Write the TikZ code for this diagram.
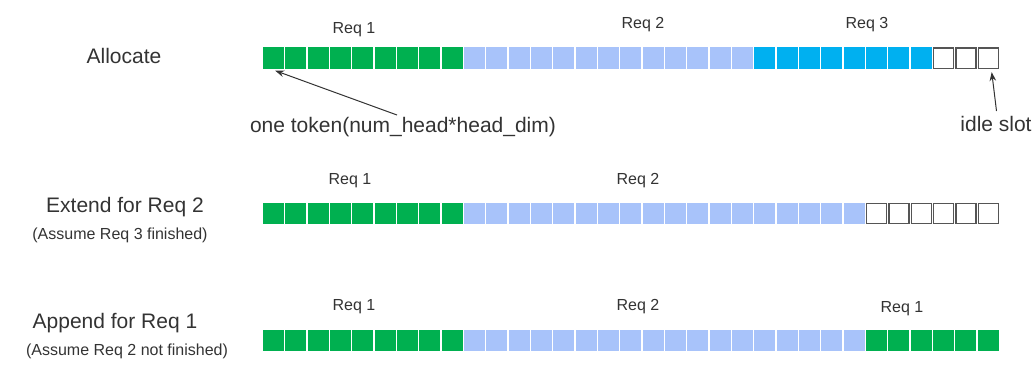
\documentclass[tikz,border=0pt]{standalone}
\usepackage{fontspec}
\setmainfont{Liberation Sans}
\usetikzlibrary{arrows.meta}
\definecolor{cgreen}{HTML}{00B050}
\definecolor{clight}{HTML}{A8C3FA}
\definecolor{cblue}{HTML}{00B0F0}
\definecolor{ctext}{HTML}{333333}
\definecolor{cidle}{HTML}{555555}
\tikzset{
  cell/.style={rectangle, inner sep=0pt, minimum width=21pt, minimum height=21.5pt, draw=none},
  greencell/.style={cell, fill=cgreen},
  lightcell/.style={cell, fill=clight},
  bluecell/.style={cell, fill=cblue},
  idlecell/.style={rectangle, inner sep=0pt, minimum width=20pt, minimum height=20.5pt, draw=cidle, line width=1.2pt, fill=white},
  big/.style={text=ctext, font=\fontsize{21}{24}\selectfont, anchor=base, inner sep=0pt},
  small/.style={text=ctext, font=\fontsize{16}{19}\selectfont, anchor=base, inner sep=0pt},
  pointer/.style={draw=ctext, line width=1pt, -{Stealth[length=9pt,width=6.5pt]}},
}
\begin{document}
\begin{tikzpicture}[x=1pt,y=-1pt]
\useasboundingbox (0,0) rectangle (1035,364);
\def\pitch{22.33}
\def\xs{262.5}
% Row 1
\foreach \i in {1,...,33}{
  \pgfmathsetmacro{\cx}{\xs+(\i-0.5)*\pitch}
  \ifnum\i<10 \node[greencell] (r1c\i) at (\cx,58.2) {};
  \else\ifnum\i<23 \node[lightcell] (r1c\i) at (\cx,58.2) {};
  \else\ifnum\i<31 \node[bluecell] (r1c\i) at (\cx,58.2) {};
  \else \node[idlecell] (r1c\i) at (\cx,58.2) {};
  \fi\fi\fi
}
% Row 2
\foreach \i in {1,...,33}{
  \pgfmathsetmacro{\cx}{\xs+(\i-0.5)*\pitch}
  \ifnum\i<10 \node[greencell] (r2c\i) at (\cx,213.5) {};
  \else\ifnum\i<28 \node[lightcell] (r2c\i) at (\cx,213.5) {};
  \else \node[idlecell] (r2c\i) at (\cx,213.5) {};
  \fi\fi
}
% Row 3
\foreach \i in {1,...,33}{
  \pgfmathsetmacro{\cx}{\xs+(\i-0.5)*\pitch}
  \ifnum\i<10 \node[greencell] (r3c\i) at (\cx,340.4) {};
  \else\ifnum\i<28 \node[lightcell] (r3c\i) at (\cx,340.4) {};
  \else \node[greencell] (r3c\i) at (\cx,340.4) {};
  \fi\fi
}
% Left labels
\node[big] (alloc) at (124,63) {Allocate};
\node[big] (ext) at (125,212) {Extend for Req 2};
\node[small] (extn) at (120,239) {(Assume Req 3 finished)};
\node[big] (app) at (115,328) {Append for Req 1};
\node[small] (appn) at (127,355) {(Assume Req 2 not finished)};
% Req labels
\node[small] (a1) at (354,33) {Req 1};
\node[small] (a2) at (643,28) {Req 2};
\node[small] (a3) at (867,28) {Req 3};
\node[small] (b1) at (350,184) {Req 1};
\node[small] (b2) at (638,184) {Req 2};
\node[small] (c1) at (354,310) {Req 1};
\node[small] (c2) at (638,310) {Req 2};
\node[small] (c3) at (902,312) {Req 1};
% annotations
\node[big] (tok) at (403,132) {one token(num\_head*head\_dim)};
\node[big] (idle) at (996,131) {idle slot};
\coordinate (tokstart) at (397,115);
\coordinate (idlestart) at (996.5,111);
\draw[pointer] (tokstart) -- ([xshift=1.5pt,yshift=-1.5pt]r1c1.south);
\draw[pointer] (idlestart) -- ([xshift=3.5pt,yshift=-3pt]r1c33.south);
\end{tikzpicture}
\end{document}
